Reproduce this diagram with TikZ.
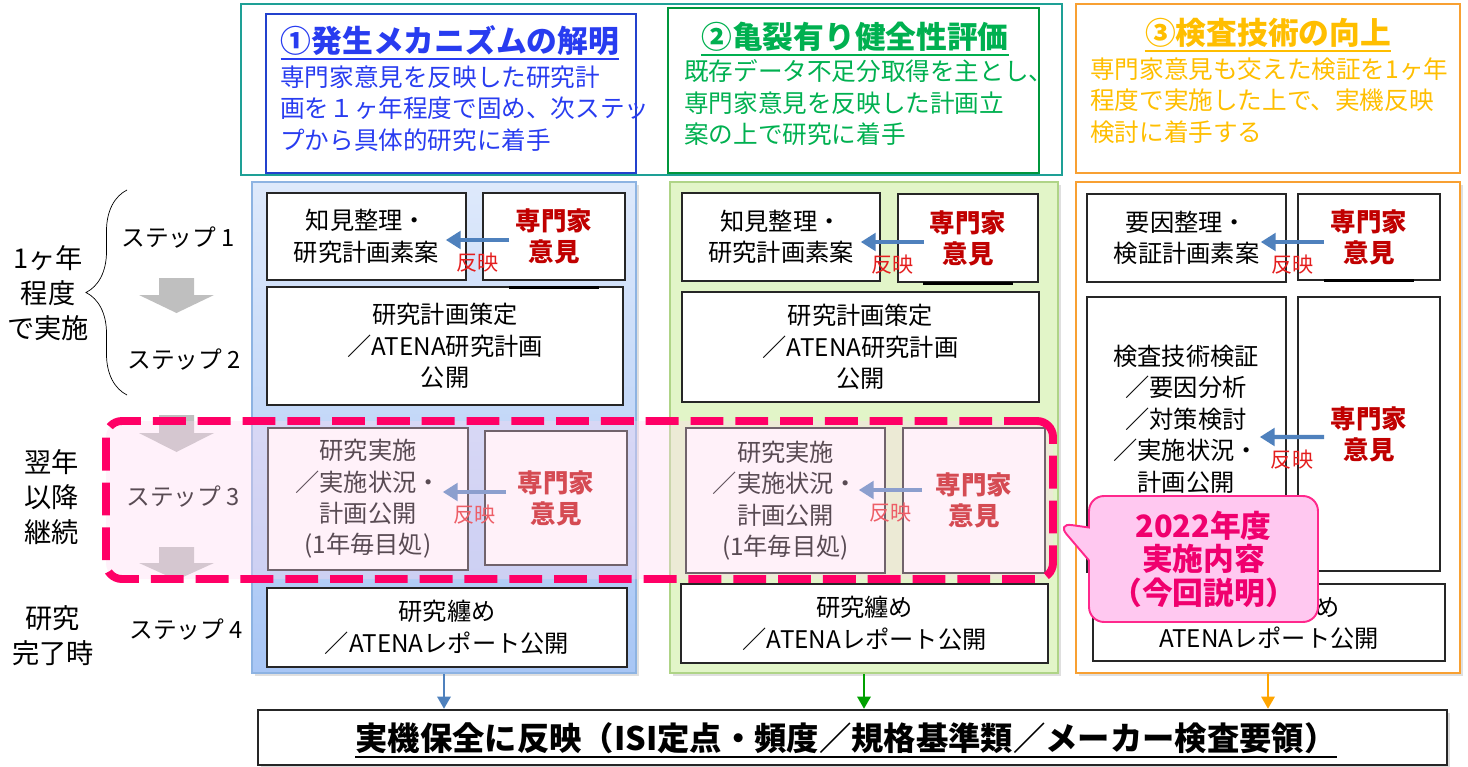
\documentclass[tikz,border=0pt]{standalone}
\usepackage{fontspec}
\setmainfont{Noto Sans CJK JP}
\usetikzlibrary{arrows.meta,fit,shapes.callouts,decorations.pathreplacing,shadows}

\definecolor{tealline}{RGB}{30,160,150}
\definecolor{goalblue}{RGB}{40,60,240}
\definecolor{lineblue}{RGB}{35,65,205}
\definecolor{goalgreen}{RGB}{0,176,80}
\definecolor{linegreen}{RGB}{0,150,60}
\definecolor{goalorange}{RGB}{255,190,0}
\definecolor{lineorange}{RGB}{248,160,50}
\definecolor{paneltopblue}{RGB}{222,233,251}
\definecolor{panelbotblue}{RGB}{168,198,245}
\definecolor{panellineblue}{RGB}{141,179,226}
\definecolor{panelgreen}{RGB}{226,245,200}
\definecolor{panellinegreen}{RGB}{175,212,135}
\definecolor{expertred}{RGB}{192,0,0}
\definecolor{reflred}{RGB}{228,30,30}
\definecolor{arrowblue}{RGB}{79,129,189}
\definecolor{arrowgreen}{RGB}{0,160,0}
\definecolor{arroworange}{RGB}{255,165,0}
\definecolor{hotpink}{RGB}{255,0,102}
\definecolor{pinkwash}{RGB}{255,215,240}
\definecolor{notefill}{RGB}{255,200,240}
\definecolor{noteline}{RGB}{255,40,140}
\definecolor{notetext}{RGB}{240,0,110}
\definecolor{stepgray}{RGB}{191,191,191}

\tikzstyle{goal}=[draw, line width=1.1pt, inner sep=0pt]
\tikzstyle{headline}=[inner sep=0pt, font=\fontsize{17.5}{21}\selectfont\bfseries]
\tikzstyle{headrule}=[line width=1.1pt]
\tikzstyle{summary}=[align=left, anchor=west, inner sep=0pt, font=\fontsize{14}{17.9}\selectfont]
\tikzstyle{panel}=[draw, line width=1.2pt, inner sep=0pt, drop shadow={shadow xshift=1.5pt, shadow yshift=-1.5pt, opacity=0.25}]
\tikzstyle{stepbox}=[draw=black!85, fill=white, line width=0.9pt, inner sep=0pt, align=center, font=\fontsize{13.8}{17.9}\selectfont]
\tikzstyle{expert}=[stepbox, font=\fontsize{14.5}{17.6}\selectfont\bfseries, text=expertred]
\tikzstyle{boxtext}=[align=center, font=\fontsize{13.8}{17.9}\selectfont]
\tikzstyle{reflect}=[draw=arrowblue, line width=2.3pt, -{Triangle[length=8.5pt,width=10pt]}]
\tikzstyle{refltext}=[font=\fontsize{12}{14}\selectfont, text=reflred]
\tikzstyle{steplabel}=[font=\fontsize{13.5}{16}\selectfont]
\tikzstyle{phase}=[align=center, font=\fontsize{15.5}{20}\selectfont]
\tikzstyle{focusframe}=[draw=hotpink, line width=4.5pt, dash pattern=on 18.7pt off 6.8pt, rounded corners=0.32cm, fill=pinkwash, fill opacity=0.35, inner sep=0pt]
\tikzstyle{outflow}=[line width=1.6pt, -{Triangle[length=7pt,width=7.5pt]}]

\begin{document}
\begin{tikzpicture}[x=0.02cm, y=-0.02cm]
\useasboundingbox (0,0) rectangle (1468,767);

    % goals
    \node[goal, draw=tealline, fit={(241,4) (1062,175)}] (goalframe) {};
    \node[goal, draw=lineblue, fit={(266,14) (636,173)}] (bluegoal) {};
    \node[goal, draw=linegreen, fit={(668,8) (1039,173)}] (greengoal) {};
    \node[goal, draw=lineorange, fit={(1076,4) (1460,173)}] (orangegoal) {};

    \node[headline, text=goalblue] (bluetitle) at (450,41) {①発生メカニズムの解明};
    \node[headline, text=goalgreen] (greentitle) at (855,37) {②亀裂有り健全性評価};
    \node[headline, text=goalorange] (orangetitle) at (1268,33) {③検査技術の向上};
    \foreach \name/\col in {bluetitle/goalblue, greentitle/goalgreen, orangetitle/goalorange}
        \draw[headrule, \col] ([yshift=-3.5pt]\name.base west) -- ([yshift=-3.5pt]\name.base east);

    \node[summary, text=goalblue] (bluesummary) at (280,108.5) {専門家意見を反映した研究計\\画を１ヶ年程度で固め、次ステッ\\プから具体的研究に着手};
    \node[summary, text=goalgreen] (greensummary) at (684,103) {既存データ不足分取得を主とし、\\専門家意見を反映した計画立\\案の上で研究に着手};
    \node[summary, text=goalorange] (orangesummary) at (1090,100.5) {専門家意見も交えた検証を1ヶ年\\程度で実施した上で、実機反映\\検討に着手する};

    % columns
    \node[panel, draw=panellineblue, top color=paneltopblue, bottom color=panelbotblue, fit={(252,182) (636,673)}] (bpanel) {};
    \node[panel, draw=panellinegreen, fill=panelgreen, fit={(670,182) (1058,673)}] (gpanel) {};
    \node[panel, draw=lineorange, fill=white, fit={(1076,182) (1460,673)}] (opanel) {};

    \foreach \name/\xa/\ya/\xb/\yb/\txt in {
        b1/267/193/466/280/{知見整理・\\研究計画素案},
        b2/267/287/623/405/{研究計画策定\\／ATENA研究計画\\公開},
        b3/268/428/468/570/{研究実施\\／実施状況・\\計画公開\\(1年毎目処)},
        b4/267/588/627/667/{研究纏め\\／ATENAレポート公開},
        gb1/682/193/880/281/{知見整理・\\研究計画素案},
        gb2/682/292/1039/402/{研究計画策定\\／ATENA研究計画\\公開},
        gb3/686/428/885/573/{研究実施\\／実施状況・\\計画公開\\(1年毎目処)},
        gb4/681/584/1048/663/{研究纏め\\／ATENAレポート公開},
        ob1/1087/194/1286/282/{要因整理・\\検証計画素案},
        ob2/1087/297/1286/572/{},
        ob4/1093/584/1445/661/{}}{
        \pgfmathsetmacro\bw{(\xb-\xa)*0.02}
        \pgfmathsetmacro\bh{(\yb-\ya)*0.02}
        \node[stepbox, minimum width=\bw cm, minimum height=\bh cm] (\name) at ({(\xa+\xb)/2},{(\ya+\yb)/2}) {\txt};
    }

    \node[boxtext] (ob2text) at (1186,419) {検査技術検証\\／要因分析\\／対策検討\\／実施状況・\\計画公開};
    \node[boxtext, anchor=east] (ob4top) at (1346,607) {研究纏め};
    \node[boxtext] (ob4bot) at (1269,638) {ATENAレポート公開};

    \foreach \name/\xa/\ya/\xb/\yb in {e1/483/193/625/280, e3/485/431/627/565,
        ge1/898/194/1038/282, ge3/903/428/1045/573,
        oe1/1298/194/1440/280, oe2/1298/297/1440/571}{
        \pgfmathsetmacro\bw{(\xb-\xa)*0.02}
        \pgfmathsetmacro\bh{(\yb-\ya)*0.02}
        \node[expert, minimum width=\bw cm, minimum height=\bh cm] (\name) at ({(\xa+\xb)/2},{(\ya+\yb)/2}) {専門家\\意見};
    }

    \foreach \name/\dy in {e1/7, ge1/1, oe1/0}
        \draw[line width=1.6pt] ([shift={(-45,\dy)}]\name.south) -- ([shift={(45,\dy)}]\name.south);

    \foreach \src/\dst/\sx/\sy/\dx/\dy in {e1/b1/27/3.5/-21/3.5, e3/b3/22/-6/-26/-7,
        ge1/gb1/27/4/-20/5, ge3/gb3/20/-10.5/-27/-10.5,
        oe1/ob1/27/5/-26/4, oe2/ob2/27/3/-27/2.5}
        \draw[reflect] ([shift={(\sx,\sy)}]\src.west) -- node[refltext, midway, below=3pt] {反映} ([shift={(\dx,\dy)}]\dst.east);

    % steps
    \foreach \x/\y/\name/\txt in {178/238/s1/1, 184/360/s2/2, 183/497/s3/3, 186/630/s4/4}
        \node[steplabel] (\name) at (\x,\y) {ステップ \txt};

    \foreach \ya/\yb/\yc in {278/295/313, 415/433/452, 547/563/580}
        \fill[stepgray] (159,\ya) -- (194,\ya) -- (194,\yb) -- (214,\yb) -- (176.5,\yc) -- (139,\yb) -- (159,\yb) -- cycle;

    \draw[decorate, decoration={brace, amplitude=0.82cm}] (127,395) -- (127,190);

    \node[phase] (firstyear) at (48,293) {1ヶ年\\程度\\で実施};
    \node[phase] (nextyears) at (52,497) {翌年\\以降\\継続};
    \node[phase] (finish) at (53,636) {研究\\完了時};

    % this year
    \node[focusframe, fit={(106,421) (1053,579)}] (focus) {};

    \coordinate (notetip) at (1057,523);
    \node[rectangle callout, draw=noteline, line width=1.1pt, fill=notefill, rounded corners=0.3cm,
        minimum width=4.58cm, minimum height=2.52cm, callout absolute pointer=(notetip),
        callout pointer width=0.66cm, align=center, text=notetext,
        font=\fontsize{17.5}{19}\selectfont\bfseries] (note) at (1203.5,559) {2022年度\\実施内容\\（今回説明）};

    % result
    \node[stepbox, line width=1.3pt, drop shadow={shadow xshift=1.5pt, shadow yshift=-1.5pt, opacity=0.3},
        minimum width=23.78cm, minimum height=1.1cm] (final) at (852.5,737.5) {};
    \node[headline, font=\fontsize{18.4}{22}\selectfont\bfseries] (finaltext) at (846,738)
        {実機保全に反映（ISI定点・頻度／規格基準類／メーカー検査要領）};
    \draw[headrule] ([yshift=-4pt]finaltext.base west) -- ([yshift=-4pt]finaltext.base east);

    \foreach \src/\col in {bpanel/arrowblue, gpanel/arrowgreen, opanel/arroworange}
        \draw[outflow, \col] (\src.south) -- (\src.south |- final.north);

\end{tikzpicture}
\end{document}
